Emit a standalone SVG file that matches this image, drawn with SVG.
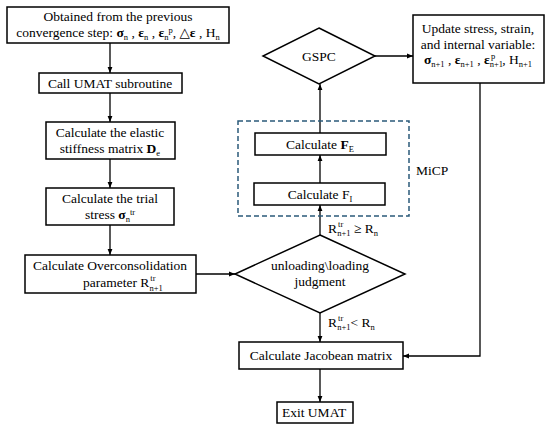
<svg xmlns="http://www.w3.org/2000/svg" width="550" height="430" viewBox="0 0 550 430">
<defs>
<marker id="ah" viewBox="0 0 10 10" refX="10" refY="5" markerWidth="6" markerHeight="6" orient="auto" markerUnits="userSpaceOnUse">
<path d="M0,1 L10,5 L0,9 Z" fill="#000"/>
</marker>
</defs>
<style>
.b{fill:#fff;stroke:#000;stroke-width:1.5}
text{font-family:'Liberation Serif','Times New Roman','DejaVu Serif',serif;font-size:13.5px;fill:#000}
.m{text-anchor:middle}
.s{font-size:8.5px}
.bd{font-weight:bold}
.c{fill:none;stroke:#000;stroke-width:1.3;marker-end:url(#ah)}
</style>
<rect width="550" height="430" fill="#fff"/>
<g id="connectors">
<line class="c" x1="110" y1="43" x2="110" y2="73"/>
<line class="c" x1="110" y1="93" x2="110" y2="122"/>
<line class="c" x1="110" y1="159" x2="110" y2="188"/>
<line class="c" x1="110" y1="225" x2="110" y2="255"/>
<line class="c" x1="196" y1="274" x2="235" y2="274"/>
<line class="c" x1="320" y1="235" x2="320" y2="205"/>
<line class="c" x1="320" y1="183" x2="320" y2="155"/>
<line class="c" x1="320" y1="133" x2="320" y2="84"/>
<line class="c" x1="375" y1="56" x2="413" y2="56"/>
<polyline class="c" points="480,83 480,356 403,356"/>
<line class="c" x1="320" y1="313" x2="320" y2="342"/>
<line class="c" x1="320" y1="369" x2="320" y2="402"/>
</g>
<g id="micp">
<rect x="238" y="121" width="171" height="95" fill="none" stroke="#2a5a7a" stroke-width="1.5" stroke-dasharray="5,3"/>
<text x="416" y="175">MiCP</text>
</g>
<g id="start">
<rect class="b" x="7" y="7" width="222" height="36"/>
<text class="m" x="118" y="21">Obtained from the previous</text>
<text class="m" x="118" y="37">convergence step: <tspan class="bd">σ</tspan><tspan class="s" dy="3">n</tspan><tspan dy="-3"> , </tspan><tspan class="bd">ε</tspan><tspan class="s" dy="3">n</tspan><tspan dy="-3"> , </tspan><tspan class="bd">ε</tspan><tspan class="s" dy="3">n</tspan><tspan class="s" dy="-7">p</tspan><tspan dy="4">, △</tspan><tspan class="bd">ε</tspan> , H<tspan class="s" dy="3">n</tspan></text>
</g>
<g id="call">
<rect class="b" x="39" y="73" width="143" height="20"/>
<text class="m" x="110" y="88">Call UMAT subroutine</text>
</g>
<g id="elastic">
<rect class="b" x="46" y="122" width="129" height="37"/>
<text class="m" x="110" y="137">Calculate the elastic</text>
<text class="m" x="110" y="153">stiffness matrix <tspan class="bd">D</tspan><tspan class="s" dy="3">e</tspan></text>
</g>
<g id="trial">
<rect class="b" x="46" y="188" width="128" height="37"/>
<text class="m" x="110" y="203">Calculate the trial</text>
<text class="m" x="110" y="219">stress <tspan class="bd">σ</tspan><tspan class="s" dy="3">n</tspan><tspan class="s" dy="-7">tr</tspan></text>
</g>
<g id="overcons">
<rect class="b" x="25" y="255" width="171" height="38"/>
<text class="m" x="110" y="270">Calculate Overconsolidation</text>
<text x="83" y="287">parameter R<tspan class="s" dx="1" dy="-6">tr</tspan><tspan class="s" dx="-6" dy="10">n+1</tspan></text>
</g>
<g id="judgment">
<polygon class="b" points="320,235 405,274 320,313 235,274"/>
<text class="m" x="320" y="270">unloading\loading</text>
<text class="m" x="320" y="286">judgment</text>
</g>
<g id="fi">
<rect class="b" x="254" y="183" width="131" height="22"/>
<text class="m" x="320" y="199">Calculate F<tspan class="s" dy="3">I</tspan></text>
</g>
<g id="fe">
<rect class="b" x="255" y="133" width="131" height="22"/>
<text class="m" x="320" y="149">Calculate <tspan class="bd">F</tspan><tspan class="s" dy="3">E</tspan></text>
</g>
<g id="gspc">
<polygon class="b" points="319,28 375,56 319,84 263,56"/>
<text class="m" x="319" y="61">GSPC</text>
</g>
<g id="update">
<rect class="b" x="413" y="15" width="131" height="68"/>
<text class="m" x="478" y="33">Update stress, strain,</text>
<text class="m" x="478" y="49">and internal variable:</text>
<text class="m" x="478" y="64"><tspan class="bd">σ</tspan><tspan class="s" dy="3">n+1</tspan><tspan dy="-3"> , </tspan><tspan class="bd">ε</tspan><tspan class="s" dy="3">n+1</tspan><tspan dy="-3"> , </tspan><tspan class="bd">ε</tspan><tspan class="s" dy="3">n+1</tspan><tspan class="s" dx="-12" dy="-8">p</tspan><tspan dx="7" dy="5">, H</tspan><tspan class="s" dy="3">n+1</tspan></text>
</g>
<g id="jacobean">
<rect class="b" x="239" y="342" width="164" height="27"/>
<text class="m" x="321" y="360">Calculate Jacobean matrix</text>
</g>
<g id="exit">
<rect class="b" x="277" y="402" width="76" height="21"/>
<text x="282" y="417">Exit UMAT</text>
</g>
<g id="labels">
<text x="328" y="233">R<tspan class="s" dx="1" dy="-6">tr</tspan><tspan class="s" dx="-6" dy="9">n+1</tspan><tspan dy="-3"> ≥ R</tspan><tspan class="s" dy="3">n</tspan></text>
<text x="328" y="327">R<tspan class="s" dx="1" dy="-6">tr</tspan><tspan class="s" dx="-6" dy="9">n+1</tspan><tspan dy="-3">&lt; R</tspan><tspan class="s" dy="3">n</tspan></text>
</g>
</svg>
